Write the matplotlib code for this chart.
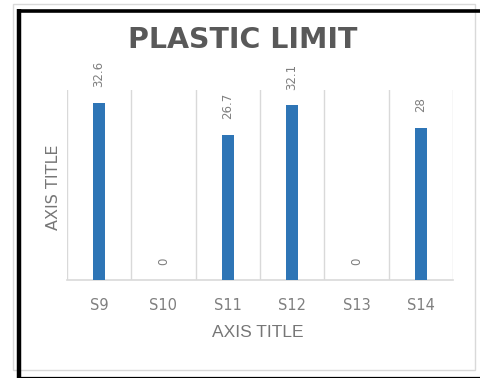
import matplotlib
matplotlib.use("Agg")
import matplotlib.pyplot as plt
from matplotlib.lines import Line2D
from matplotlib.patches import Rectangle

# Data
samples = ["S9", "S10", "S11", "S12", "S13", "S14"]
plastic_limit = [32.6, 0, 26.7, 32.1, 0, 28]
value_labels = ["32.6", "0", "26.7", "32.1", "0", "28"]

W, H = 481, 378
fig = plt.figure(figsize=(W / 100, H / 100), dpi=100)
fig.patch.set_facecolor("white")


def fx(px):
    return px / W


def fy(py):
    return 1 - py / H


bar_color = "#2E75B6"
grid_color = "#D9D9D9"
text_gray = "#7F7F7F"
title_gray = "#595959"

# Plot area
ax = fig.add_axes([fx(67), fy(280), fx(453) - fx(67), fy(89.6) - fy(280)])
x = list(range(len(samples)))
ax.bar(x, plastic_limit, width=0.19, color=bar_color, zorder=3)
ax.set_xlim(-0.5, len(samples) - 0.5)
ax.set_ylim(0, 35)

# Vertical separators between categories
for b in range(len(samples) + 1):
    ax.axvline(b - 0.5, color=grid_color, lw=1.0, zorder=1)

for side in ("top", "left", "right"):
    ax.spines[side].set_visible(False)
ax.spines["bottom"].set_color(grid_color)
ax.spines["bottom"].set_linewidth(1.2)
ax.set_yticks([])
ax.set_xticks(x)
ax.set_xticklabels(samples, fontsize=10.5, color=text_gray, family="DejaVu Sans")
ax.tick_params(axis="x", length=0, pad=13)

# Rotated value labels above each bar
for xi, v, lab in zip(x, plastic_limit, value_labels):
    ax.annotate(lab, (xi, v), xytext=(0, 11), textcoords="offset points",
                rotation=90, ha="center", va="bottom", fontsize=8.5,
                color=text_gray, family="DejaVu Sans")

# Titles
fig.text(fx(243), fy(40.5), "PLASTIC LIMIT", ha="center", va="center",
         fontsize=20.5, fontweight="bold", color=title_gray, family="DejaVu Sans")
fig.text(fx(258), fy(332.5), "AXIS TITLE", ha="center", va="center",
         fontsize=12.5, color="#767676", family="Liberation Sans")
fig.text(fx(54), fy(187), "AXIS TITLE", ha="center", va="center", rotation=90,
         fontsize=11.5, color="#767676", family="DejaVu Sans")

# Chart frame: light outer border and heavy black frame
fig.add_artist(Rectangle((fx(12.5), fy(370)), fx(475) - fx(12.5), fy(3.5) - fy(370),
                         transform=fig.transFigure, fill=False,
                         edgecolor="#D9D9D9", lw=1.0))
fig.add_artist(Line2D([fx(19), fx(19)], [fy(9), fy(378)], transform=fig.transFigure,
                      color="black", lw=3.2, solid_capstyle="butt"))
fig.add_artist(Line2D([fx(17.5), fx(481)], [fy(10.5), fy(10.5)], transform=fig.transFigure,
                      color="black", lw=2.6, solid_capstyle="butt"))
fig.add_artist(Line2D([fx(17.5), fx(481)], [fy(377.5), fy(377.5)], transform=fig.transFigure,
                      color="black", lw=1.6, solid_capstyle="butt"))

fig.savefig("out.png", dpi=100)
